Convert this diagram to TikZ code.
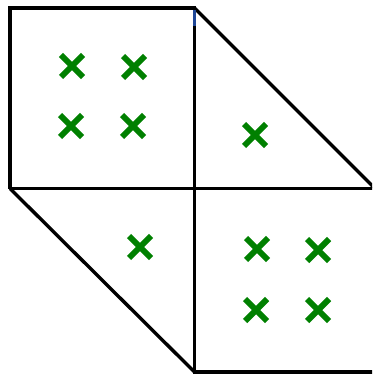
\documentclass[tikz,border=0pt]{standalone}
\usetikzlibrary{shapes.misc}
\definecolor{markgreen}{RGB}{0,128,0}
\definecolor{edgeblue}{RGB}{30,70,150}
\begin{document}
\begin{tikzpicture}[
        x=1pt, y=-1pt,
        edge/.style={draw=black, line width=3.4pt, line join=miter},
        xmark/.style={cross out, draw=markgreen, line width=6pt, minimum size=16pt, inner sep=0pt}
    ]
        \useasboundingbox (0,0) rectangle (372,374);
        \begin{scope}
        \clip (0,0) rectangle (372,374);
        % corner points of the cells
        \coordinate (tl) at (10,8);
        \coordinate (tm) at (194.5,8);
        \coordinate (ml) at (10,188.5);
        \coordinate (mm) at (194.5,188.5);
        \coordinate (mr) at (375,188.5);
        \coordinate (bm) at (194.5,372);
        \coordinate (br) at (375,372);

        \draw[edge] (ml) -- (tl) -- (tm) -- (bm) -- (br);
        \draw[edge] (tm) -- (377,190.5);
        \draw[edge] (ml) -- (mr);
        \draw[edge] (ml) -- (bm);
        \draw[draw=edgeblue, line width=3.4pt] (194.5,9.8) -- (194.5,26);
        \end{scope}

        % marks in the upper left square
        \node[xmark] (a1) at (72,66) {};
        \node[xmark] (a2) at (134,67) {};
        \node[xmark] (a3) at (71,126) {};
        \node[xmark] (a4) at (133,126) {};
        % marks in the two triangles
        \node[xmark] (b1) at (255,135) {};
        \node[xmark] (c1) at (140,247) {};
        % marks in the lower right square
        \node[xmark] (d1) at (257,249) {};
        \node[xmark] (d2) at (318,250) {};
        \node[xmark] (d3) at (256,310) {};
        \node[xmark] (d4) at (318,310) {};
    \end{tikzpicture}
\end{document}
